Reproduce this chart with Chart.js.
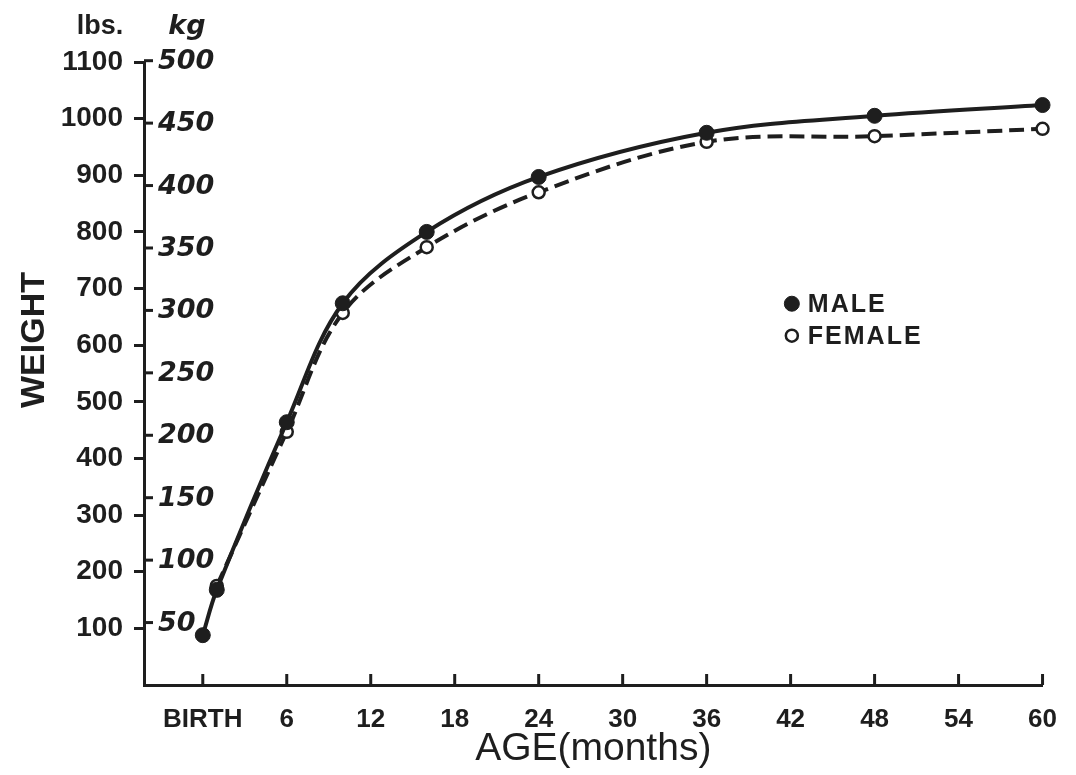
<!DOCTYPE html>
<html>
<head>
<meta charset="utf-8">
<script src="https://cdn.jsdelivr.net/npm/chart.js@4"></script>
<style>
  html, body { margin: 0; padding: 0; background: #fff; }
  #wrap { width: 1076px; height: 775px; }
</style>
</head>
<body>
<div id="wrap"><canvas id="chart" width="1076" height="775"></canvas></div>
<script>
'use strict';

// age in months, 0 = birth
var months = [0, 1, 6, 10, 16, 24, 36, 48, 60];
// weight in lbs
var maleLbs = [88, 168, 464, 674, 800, 897, 975, 1005, 1024];
var femaleLbs = [null, 175, 447, 657, 773, 870, 959, 969, 982];

var monthTicks = [0, 6, 12, 18, 24, 30, 36, 42, 48, 54, 60];
var lbsTicks = [100, 200, 300, 400, 500, 600, 700, 800, 900, 1000, 1100];
var kgTicks = [50, 100, 150, 200, 250, 300, 350, 400, 450, 500];

var LB_PER_KG = 2.20462;
var ink = '#1e1e1e';

function toPoints(xs, ys) {
  var pts = [];
  for (var i = 0; i < xs.length; i++) {
    pts.push({x: xs[i], y: ys[i]});
  }
  return pts;
}

function line(ctx, x1, y1, x2, y2) {
  ctx.beginPath();
  ctx.moveTo(x1, y1);
  ctx.lineTo(x2, y2);
  ctx.stroke();
}

// extra bits the library does not draw: inner ticks, kg scale, headers, legend
var extras = {
  id: 'extras',
  beforeDraw: function(chart) {
    var ctx = chart.ctx;
    ctx.save();
    ctx.fillStyle = '#fff';
    ctx.fillRect(0, 0, chart.width, chart.height);
    ctx.restore();
  },
  afterDraw: function(chart) {
    var ctx = chart.ctx;
    var ca = chart.chartArea;
    var x = chart.scales.x;
    var y = chart.scales.y;
    ctx.save();
    ctx.strokeStyle = ink;
    ctx.fillStyle = ink;
    ctx.lineWidth = 3;

    // x ticks point up into the plot
    monthTicks.forEach(function(m) {
      var px = x.getPixelForValue(m);
      line(ctx, px, ca.bottom, px, ca.bottom - 11);
    });

    // kg scale on the inner side of the y axis
    ctx.font = 'italic bold 27px "DejaVu Sans"';
    ctx.textAlign = 'left';
    ctx.textBaseline = 'middle';
    kgTicks.forEach(function(kg) {
      var py = y.getPixelForValue(kg * LB_PER_KG);
      line(ctx, ca.left, py, ca.left + 9, py);
      ctx.fillText(String(kg), ca.left + 14, py + 1);
    });

    // unit headers
    ctx.textAlign = 'center';
    ctx.font = 'bold 27px "Liberation Sans"';
    ctx.fillText('lbs.', ca.left - 44, 27);
    ctx.font = 'italic bold 27px "DejaVu Sans"';
    ctx.fillText('kg', ca.left + 43, 27);

    // y axis title
    ctx.save();
    ctx.translate(35, 340);
    ctx.rotate(-Math.PI / 2);
    ctx.font = 'bold 34px "Liberation Sans"';
    ctx.fillText('WEIGHT', 0, 0);
    ctx.restore();

    // legend
    var lx = ca.left + (ca.right - ca.left) * 0.721;
    var ly = ca.top + (ca.bottom - ca.top) * 0.388;
    var ds = chart.data.datasets;
    ctx.font = 'bold 25px "Liberation Sans"';
    ctx.textAlign = 'left';
    ctx.letterSpacing = '2px';
    for (var i = 0; i < ds.length; i++) {
      var cy = ly + i * 32;
      ctx.beginPath();
      ctx.arc(lx, cy, ds[i].pointRadius, 0, Math.PI * 2);
      ctx.fillStyle = ds[i].pointBackgroundColor;
      ctx.fill();
      ctx.lineWidth = ds[i].pointBorderWidth;
      ctx.strokeStyle = ink;
      ctx.stroke();
      ctx.fillStyle = ink;
      ctx.fillText(ds[i].label, lx + 16, cy + 1);
    }
    ctx.restore();
  }
};

var ctx = document.getElementById('chart').getContext('2d');
var chart = new Chart(ctx, {
  type: 'line',
  data: {
    datasets: [{
      label: 'MALE',
      data: toPoints(months, maleLbs),
      borderColor: ink,
      borderWidth: 4,
      pointRadius: 7.5,
      pointBackgroundColor: ink,
      pointBorderColor: ink,
      pointBorderWidth: 1,
      tension: 0.35,
      clip: false
    }, {
      label: 'FEMALE',
      data: toPoints(months, femaleLbs),
      borderColor: ink,
      borderWidth: 4,
      borderDash: [15, 7],
      pointRadius: 6,
      pointBackgroundColor: '#fff',
      pointBorderColor: ink,
      pointBorderWidth: 2.5,
      tension: 0.35,
      clip: false
    }]
  },
  options: {
    responsive: false,
    animation: false,
    layout: { padding: { left: 0, right: 28, top: 62, bottom: 0 } },
    plugins: {
      legend: { display: false },
      tooltip: { enabled: false }
    },
    scales: {
      x: {
        type: 'linear',
        min: -4.2,
        max: 60,
        afterBuildTicks: function(scale) {
          scale.ticks = monthTicks.map(function(v) { return {value: v}; });
        },
        afterFit: function(scale) { scale.height = 90; },
        border: { display: true, color: ink, width: 3 },
        grid: { drawOnChartArea: false, drawTicks: false },
        ticks: {
          color: ink,
          padding: 19,
          maxRotation: 0,
          font: { family: 'Liberation Sans', size: 26, weight: 'bold' },
          callback: function(v) { return v === 0 ? 'BIRTH' : String(v); }
        },
        title: {
          display: true,
          text: 'AGE(months)',
          color: ink,
          font: { family: 'Liberation Sans', size: 39 },
          padding: { top: 2, bottom: 2 }
        }
      },
      y: {
        type: 'linear',
        min: 0,
        max: 1100,
        afterBuildTicks: function(scale) {
          scale.ticks = lbsTicks.map(function(v) { return {value: v}; });
        },
        afterFit: function(scale) { scale.width = 144; },
        border: { display: true, color: ink, width: 3 },
        grid: {
          drawOnChartArea: false,
          drawTicks: true,
          tickLength: 10,
          tickWidth: 3,
          tickColor: ink
        },
        ticks: {
          color: ink,
          padding: 11,
          font: { family: 'Liberation Sans', size: 28, weight: 'bold' },
          callback: function(v) { return String(v); }
        }
      }
    }
  },
  plugins: [extras]
});
</script>
</body>
</html>
